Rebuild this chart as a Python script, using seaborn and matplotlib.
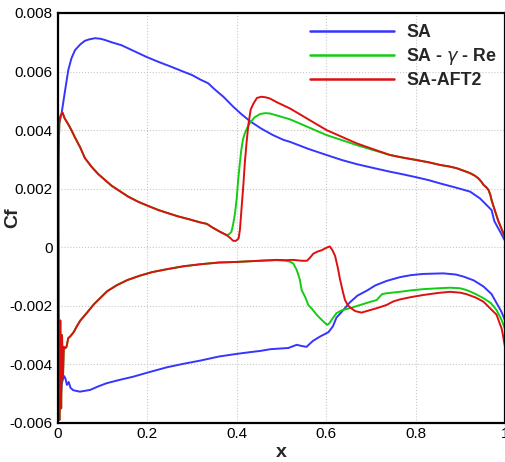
import numpy as np
import pandas as pd
import matplotlib
matplotlib.use("Agg")
import matplotlib.pyplot as plt
from matplotlib.ticker import MultipleLocator
import seaborn as sns

# Skin-friction coefficient along the airfoil surface, upper and lower sides
models = ["SA", r"SA - $\gamma$ - Re", "SA-AFT2"]
colors = ["#3535ff", "#14cc14", "#dd1010"]

sa_upper_x = [0.0, 0.002, 0.008, 0.016, 0.023, 0.03, 0.038, 0.05, 0.06, 0.07, 0.083,
              0.095, 0.105, 0.12, 0.142, 0.17, 0.198, 0.225, 0.254, 0.28, 0.3, 0.318,
              0.336, 0.35, 0.37, 0.392, 0.41, 0.43, 0.455, 0.481, 0.504, 0.519, 0.56,
              0.601, 0.635, 0.668, 0.705, 0.743, 0.772, 0.802, 0.83, 0.855, 0.892,
              0.922, 0.944, 0.959, 0.97, 0.976, 0.983, 0.991, 1.0]
sa_upper_cf = [0.0015, 0.0042, 0.00457, 0.00537, 0.00605, 0.00645, 0.00673, 0.00693,
               0.00705, 0.0071, 0.00714, 0.00712, 0.00708, 0.007, 0.0069, 0.0067,
               0.0065, 0.00633, 0.00616, 0.006, 0.00588, 0.00573, 0.0056, 0.0054,
               0.00514, 0.0048, 0.00455, 0.0043, 0.00405, 0.00383, 0.00367, 0.0036,
               0.00336, 0.00315, 0.00298, 0.00284, 0.00271, 0.00258, 0.00249, 0.00239,
               0.00229, 0.00218, 0.00203, 0.0019, 0.00167, 0.00144, 0.00127, 0.0009,
               0.0007, 0.00048, 0.00022]
sa_lower_x = [0.002, 0.004, 0.006, 0.008, 0.011, 0.014, 0.017, 0.02, 0.024, 0.028,
              0.034, 0.049, 0.072, 0.09, 0.109, 0.14, 0.168, 0.2, 0.243, 0.28, 0.318,
              0.36, 0.4, 0.43, 0.452, 0.475, 0.504, 0.515, 0.534, 0.545, 0.556, 0.57,
              0.586, 0.605, 0.615, 0.623, 0.635, 0.653, 0.67, 0.691, 0.71, 0.735,
              0.765, 0.79, 0.817, 0.862, 0.89, 0.907, 0.93, 0.952, 0.97, 0.981, 0.992,
              1.0]
sa_lower_cf = [-0.0056, -0.0055, -0.0052, -0.0047, -0.0045, -0.0044, -0.0045, -0.0047,
               -0.0046, -0.0048, -0.00488, -0.00493, -0.00487, -0.00475, -0.00464,
               -0.00452, -0.00442, -0.00428, -0.0041, -0.00398, -0.00387, -0.00373,
               -0.00364, -0.00358, -0.00354, -0.00348, -0.00345, -0.00344, -0.00333,
               -0.00337, -0.0034, -0.0032, -0.00305, -0.0029, -0.0027, -0.0024,
               -0.0022, -0.00188, -0.00165, -0.00148, -0.0013, -0.00115, -0.00102,
               -0.00095, -0.00091, -0.00089, -0.00093, -0.001, -0.00113, -0.00134,
               -0.0016, -0.0019, -0.0022, -0.0025]

aft_upper_x = [0.001, 0.003, 0.006, 0.01, 0.015, 0.023, 0.03, 0.038, 0.05, 0.06, 0.075,
               0.09, 0.105, 0.12, 0.14, 0.157, 0.18, 0.202, 0.225, 0.247, 0.27, 0.295,
               0.318, 0.333, 0.345, 0.36, 0.377, 0.385, 0.392, 0.398, 0.404, 0.407,
               0.411, 0.415, 0.418, 0.422, 0.426, 0.431, 0.437, 0.445, 0.455, 0.465,
               0.474, 0.49, 0.519, 0.56, 0.601, 0.635, 0.668, 0.705, 0.743, 0.772,
               0.802, 0.83, 0.855, 0.875, 0.892, 0.91, 0.922, 0.932, 0.94, 0.947,
               0.952, 0.958, 0.963, 0.967, 0.97, 0.977, 0.985, 0.993, 1.0]
aft_upper_cf = [0.003, 0.0043, 0.0045, 0.0046, 0.0044, 0.0042, 0.004, 0.00375, 0.0034,
                0.00305, 0.00275, 0.0025, 0.0023, 0.0021, 0.0019, 0.00173, 0.00155,
                0.00141, 0.00127, 0.00116, 0.00105, 0.00095, 0.00085, 0.0008, 0.00068,
                0.00055, 0.00042, 0.00032, 0.00022, 0.00022, 0.0003, 0.0006, 0.0014,
                0.0022, 0.0029, 0.0036, 0.0042, 0.0047, 0.0049, 0.0051, 0.00514,
                0.00512, 0.00508, 0.00495, 0.00474, 0.00437, 0.004, 0.00377, 0.00355,
                0.00335, 0.00315, 0.00306, 0.00298, 0.0029, 0.00281, 0.00276, 0.0027,
                0.0026, 0.00253, 0.00245, 0.00236, 0.00224, 0.00213, 0.00205, 0.00196,
                0.0018, 0.00161, 0.00127, 0.0009, 0.0006, 0.00035]
aft_lower_x = [0.001, 0.003, 0.005, 0.007, 0.009, 0.011, 0.013, 0.016, 0.019, 0.023,
               0.027, 0.035, 0.042, 0.05, 0.064, 0.08, 0.094, 0.11, 0.131, 0.155,
               0.183, 0.21, 0.243, 0.28, 0.318, 0.36, 0.4, 0.452, 0.489, 0.51, 0.526,
               0.545, 0.557, 0.564, 0.571, 0.58, 0.59, 0.6, 0.608, 0.614, 0.62, 0.626,
               0.631, 0.637, 0.642, 0.648, 0.653, 0.665, 0.679, 0.695, 0.713, 0.735,
               0.75, 0.765, 0.79, 0.817, 0.85, 0.877, 0.9, 0.914, 0.935, 0.952, 0.968,
               0.981, 0.993, 1.0]
aft_lower_cf = [-0.002, -0.0059, -0.0025, -0.0055, -0.003, -0.0045, -0.0034, -0.00345,
                -0.0034, -0.0031, -0.00305, -0.0029, -0.0027, -0.0025, -0.00225,
                -0.00195, -0.00174, -0.0015, -0.0013, -0.00112, -0.00097, -0.00085,
                -0.00075, -0.00065, -0.00058, -0.00052, -0.0005, -0.00046, -0.00043,
                -0.00044, -0.00043, -0.00046, -0.00046, -0.00035, -0.00022, -0.00015,
                -0.0001, -0.00002, 0.00003, -0.0001, -0.0003, -0.0007, -0.0011,
                -0.0015, -0.0018, -0.00197, -0.00205, -0.00218, -0.00223, -0.00216,
                -0.00208, -0.00197, -0.00185, -0.00178, -0.0017, -0.00163, -0.00156,
                -0.00152, -0.00155, -0.0016, -0.00172, -0.00186, -0.0021, -0.0023,
                -0.0028, -0.0034]

gre_upper_x = [0.001, 0.003, 0.006, 0.01, 0.015, 0.023, 0.03, 0.038, 0.05, 0.06, 0.075,
               0.09, 0.105, 0.12, 0.14, 0.157, 0.18, 0.202, 0.225, 0.247, 0.27, 0.295,
               0.318, 0.333, 0.345, 0.36, 0.372, 0.377, 0.383, 0.388, 0.392, 0.396,
               0.4, 0.403, 0.407, 0.41, 0.414, 0.418, 0.424, 0.43, 0.44, 0.452, 0.463,
               0.474, 0.49, 0.519, 0.56, 0.601, 0.635, 0.668, 0.705, 0.743, 0.772,
               0.802, 0.83, 0.855, 0.875, 0.892, 0.91, 0.922, 0.932, 0.94, 0.947,
               0.952, 0.958, 0.963, 0.967, 0.97, 0.977, 0.985, 0.993, 1.0]
gre_upper_cf = [0.003, 0.0043, 0.0045, 0.0046, 0.0044, 0.0042, 0.004, 0.00375, 0.0034,
                0.00305, 0.00275, 0.0025, 0.0023, 0.0021, 0.0019, 0.00173, 0.00155,
                0.00141, 0.00127, 0.00116, 0.00105, 0.00095, 0.00085, 0.0008, 0.00068,
                0.00055, 0.00045, 0.00041, 0.00045, 0.00053, 0.0008, 0.00116, 0.0017,
                0.0023, 0.0029, 0.00332, 0.0037, 0.00389, 0.0041, 0.00426, 0.00444,
                0.00455, 0.00458, 0.00457, 0.0045, 0.00437, 0.0041, 0.00383, 0.00366,
                0.00349, 0.00332, 0.00315, 0.00306, 0.00298, 0.0029, 0.00281, 0.00276,
                0.0027, 0.0026, 0.00253, 0.00245, 0.00236, 0.00224, 0.00213, 0.00205,
                0.00196, 0.0018, 0.00161, 0.00127, 0.0009, 0.0006, 0.00035]
gre_lower_x = [0.001, 0.003, 0.005, 0.007, 0.009, 0.011, 0.013, 0.016, 0.019, 0.023,
               0.027, 0.035, 0.042, 0.05, 0.064, 0.08, 0.094, 0.11, 0.131, 0.155,
               0.183, 0.21, 0.243, 0.28, 0.318, 0.36, 0.4, 0.452, 0.489, 0.51, 0.52,
               0.526, 0.534, 0.541, 0.545, 0.553, 0.56, 0.568, 0.579, 0.594, 0.602,
               0.607, 0.612, 0.623, 0.635, 0.653, 0.676, 0.695, 0.713, 0.725, 0.735,
               0.765, 0.79, 0.817, 0.85, 0.877, 0.9, 0.914, 0.935, 0.952, 0.968,
               0.981, 0.993, 1.0]
gre_lower_cf = [-0.002, -0.0059, -0.0025, -0.0055, -0.003, -0.0045, -0.0034, -0.00345,
                -0.0034, -0.0031, -0.00305, -0.0029, -0.0027, -0.0025, -0.00225,
                -0.00195, -0.00174, -0.0015, -0.0013, -0.00112, -0.00097, -0.00085,
                -0.00075, -0.00065, -0.00058, -0.00052, -0.0005, -0.00046, -0.00044,
                -0.00046, -0.0005, -0.00055, -0.00077, -0.0011, -0.00146, -0.0017,
                -0.00197, -0.0021, -0.00231, -0.00254, -0.00265, -0.0026, -0.00248,
                -0.00225, -0.00215, -0.00208, -0.00197, -0.00188, -0.0018, -0.0016,
                -0.00157, -0.00152, -0.00147, -0.00143, -0.0014, -0.00138, -0.0014,
                -0.00146, -0.0016, -0.00174, -0.0019, -0.00214, -0.0025, -0.0028]

x_ticks = [0, 0.2, 0.4, 0.6, 0.8, 1]
x_tick_labels = ["0", "0.2", "0.4", "0.6", "0.8", "1"]
y_ticks = [-0.006, -0.004, -0.002, 0, 0.002, 0.004, 0.006, 0.008]
y_tick_labels = ["-0.006", "-0.004", "-0.002", "0", "0.002", "0.004", "0.006", "0.008"]


def surface_loop(ux, ucf, lx, lcf):
    # trailing edge -> leading edge along the upper side, then back along the lower side
    return list(ux[::-1]) + list(lx), list(ucf[::-1]) + list(lcf)


frames = []
for name, (ux, ucf, lx, lcf) in zip(models, [
        (sa_upper_x, sa_upper_cf, sa_lower_x, sa_lower_cf),
        (gre_upper_x, gre_upper_cf, gre_lower_x, gre_lower_cf),
        (aft_upper_x, aft_upper_cf, aft_lower_x, aft_lower_cf)]):
    xs, cfs = surface_loop(ux, ucf, lx, lcf)
    frames.append(pd.DataFrame({"x": xs, "Cf": cfs, "model": name}))
df = pd.concat(frames, ignore_index=True)

sns.set_theme(style="white")
plt.rcParams["font.family"] = ["Liberation Sans", "DejaVu Sans"]
plt.rcParams["mathtext.fontset"] = "dejavusans"

fig = plt.figure(figsize=(5.06, 4.62), dpi=100)
ax = fig.add_axes([58 / 506, 39 / 462, 447 / 506, 410 / 462])

sns.lineplot(data=df, x="x", y="Cf", hue="model", hue_order=models,
             palette=colors, sort=False, estimator=None, linewidth=1.4, ax=ax)

ax.set_xlim(0, 1)
ax.set_ylim(-0.006, 0.008)
ax.set_xticks(x_ticks)
ax.set_xticklabels(x_tick_labels)
ax.set_yticks(y_ticks)
ax.set_yticklabels(y_tick_labels)
ax.xaxis.set_minor_locator(MultipleLocator(0.05))
ax.yaxis.set_minor_locator(MultipleLocator(0.0005))
ax.tick_params(axis="both", which="major", direction="in", length=8, width=1.5,
               labelsize=11, color="black", labelcolor="black",
               top=False, right=False)
ax.tick_params(axis="x", which="major", pad=3)
ax.tick_params(axis="y", which="major", pad=4)
ax.tick_params(axis="both", which="minor", direction="in", length=4.5, width=1.0,
               color="black", top=False, right=False)
ax.grid(True, which="major", color="#c8c8c8", linestyle=":", linewidth=0.8)
for side in ["left", "bottom", "top", "right"]:
    ax.spines[side].set_visible(True)
    ax.spines[side].set_color("black")
    ax.spines[side].set_linewidth(1.6)

ax.set_xlabel("x", fontsize=14, fontweight="bold")
ax.set_ylabel("Cf", fontsize=14, fontweight="bold")
ax.xaxis.set_label_coords(0.5, -0.052)
ax.yaxis.set_label_coords(-0.082, 0.5)

handles, labels = ax.get_legend_handles_labels()
for h in handles:
    h.set_linewidth(1.8)
ax.legend(handles, labels, loc="upper left", bbox_to_anchor=(0.564, 0.972),
          frameon=False, handlelength=4.7, handletextpad=0.72, labelspacing=0.28,
          borderpad=0, borderaxespad=0,
          prop={"family": ["Liberation Sans", "DejaVu Sans"], "weight": "bold",
                "size": 12.8})

fig.savefig("out.png", dpi=100)
